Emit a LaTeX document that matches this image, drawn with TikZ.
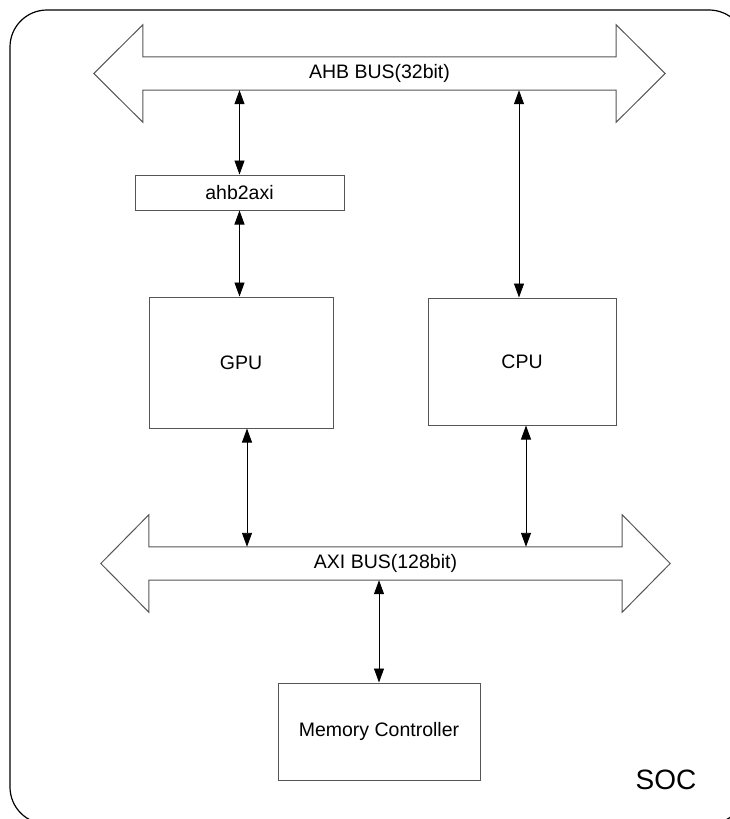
\documentclass[tikz,border=0pt]{standalone}
\usepackage{xcolor}
\usepackage{fontspec}
\setmainfont{Liberation Sans}
\usepackage{tikz}
\usetikzlibrary{calc}
\usetikzlibrary{arrows.meta}
\usetikzlibrary{positioning}
\definecolor{edgegray}{RGB}{85,85,85}
\tikzset{>={Triangle[length=14pt,width=10pt]}}
\tikzstyle{blk} = [draw=edgegray, line width=1pt, inner sep=0, font=\fontsize{19.5}{23}\selectfont]
\tikzstyle{shaft} = [draw=none, inner sep=0, minimum height=33pt, font=\fontsize{19.5}{23}\selectfont]
\tikzstyle{link} = [<->, line width=0.9pt, draw=black]

\begin{document}
\begin{tikzpicture}[x=1pt, y=-1pt]
\useasboundingbox (0,0) rectangle (730,819);
\draw [line width=1.2pt, rounded corners=37pt] (10,10) rectangle (746,824);

% buses
\node [shaft, minimum width=473pt] (AHB) at (379.5,73.5) {AHB BUS(32bit)};
\node [shaft, minimum width=473pt] (AXI) at (385.5,563.5) {AXI BUS(128bit)};
\foreach \b/\h in {AHB/49, AXI/48}
  \draw [draw=edgegray, line width=1pt, line join=miter]
    (\b.north west) -- ++(0,-32) -- ($(\b.west)+(-\h,0)$) -- ($(\b.south west)+(0,32)$)
    -- (\b.south west) -- (\b.south east) -- ++(0,32) -- ($(\b.east)+(\h,0)$)
    -- ($(\b.north east)+(0,-32)$) -- (\b.north east) -- cycle;

% blocks
\node [blk, minimum width=209pt, minimum height=35pt]  (A2X) at (239.5,192.5) {ahb2axi};
\node [blk, minimum width=184pt, minimum height=131pt] (GPU) at (241,362.5) {GPU};
\node [blk, minimum width=188pt, minimum height=127pt] (CPU) at (522,361.5) {CPU};
\node [blk, minimum width=202pt, minimum height=97pt]  (MC) at (379,731.5) {Memory Controller};
\node [draw=none, inner sep=0, font=\fontsize{28}{32}\selectfont] (SOC) at (666,780) {SOC};

\coordinate (gpuB) at ([xshift=6pt]GPU.south);
\coordinate (cpuT) at ([xshift=-3pt]CPU.north);
\coordinate (cpuB) at ([xshift=4pt]CPU.south);

% links
\draw [link] (AHB.south -| A2X) to (A2X.north);
\draw [link] (A2X.south) to (A2X.south |- GPU.north);
\draw [link] (AHB.south -| cpuT) to (cpuT);
\draw [link] (gpuB) to (gpuB |- AXI.north);
\draw [link] (cpuB) to (cpuB |- AXI.north);
\draw [link] (AXI.south -| MC) to (MC.north);
\end{tikzpicture}
\end{document}
